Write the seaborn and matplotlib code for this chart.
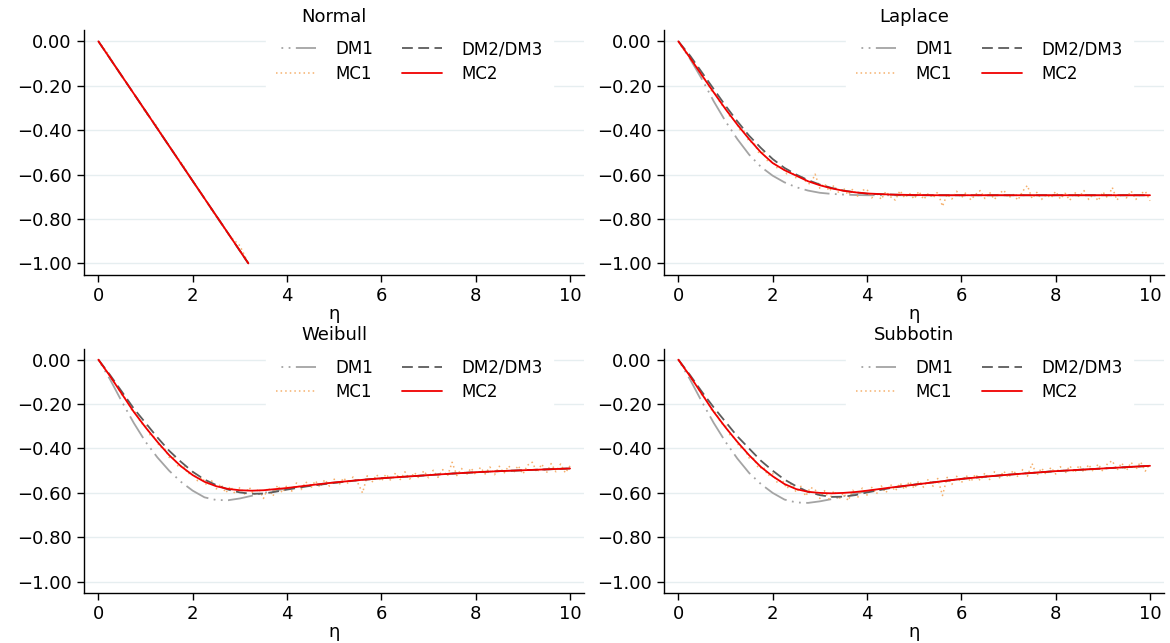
import numpy as np
import pandas as pd
import seaborn as sns
import matplotlib.pyplot as plt

# eta grid used for the smooth curves (DM1, DM2/DM3, MC2)
eta = [0, 0.25, 0.5, 0.75, 1, 1.25, 1.5, 1.75, 2, 2.25, 2.5, 2.75, 3, 3.25, 3.5, 3.75,
       4, 4.5, 5, 5.5, 6, 6.5, 7, 7.5, 8, 8.5, 9, 9.5, 10]
# eta grid of the simulated (noisy) MC1 series, steps of 0.1
eta_mc1 = np.round(np.arange(0, 10.05, 0.1), 1)

# Normal: all methods coincide, plotted until the curve hits -1
eta_normal = [0, 1, 2, 3, 3.18]
normal_curve = [0, -0.314, -0.629, -0.943, -1.0]
eta_normal_mc1 = [0, 0.2, 0.4, 0.6, 0.8, 1.0, 1.2, 1.4, 1.6, 1.8, 2.0, 2.2, 2.4, 2.6, 2.8, 3.0, 3.18]
normal_mc1 = [0, -0.055, -0.13, -0.19, -0.25, -0.32, -0.37, -0.44, -0.5, -0.56, -0.63,
              -0.69, -0.76, -0.82, -0.88, -0.92, -1.0]

# Laplace
laplace_dm1 = [0, -0.08, -0.17, -0.27, -0.36, -0.44, -0.51, -0.565, -0.605, -0.635, -0.657,
               -0.672, -0.682, -0.687, -0.69, -0.692, -0.693, -0.693, -0.693, -0.693, -0.693,
               -0.693, -0.693, -0.693, -0.693, -0.693, -0.693, -0.693, -0.693]
laplace_dm2 = [0, -0.065, -0.14, -0.215, -0.29, -0.36, -0.425, -0.48, -0.53, -0.57, -0.60,
               -0.625, -0.645, -0.66, -0.672, -0.68, -0.686, -0.69, -0.693, -0.693, -0.693,
               -0.693, -0.693, -0.693, -0.693, -0.693, -0.693, -0.693, -0.693]
laplace_mc2 = [0, -0.075, -0.153, -0.23, -0.305, -0.375, -0.44, -0.50, -0.548, -0.58, -0.605,
               -0.63, -0.648, -0.662, -0.673, -0.68, -0.685, -0.69, -0.692, -0.693, -0.693,
               -0.693, -0.693, -0.693, -0.693, -0.693, -0.693, -0.693, -0.693]
laplace_mc1 = [0, -0.035, -0.055, -0.097, -0.115, -0.16, -0.178, -0.223, -0.238, -0.283, -0.297,
               -0.343, -0.352, -0.398, -0.405, -0.452, -0.455, -0.5, -0.5, -0.542, -0.54,
               -0.572, -0.565, -0.597, -0.585, -0.617, -0.603, -0.63, -0.645, -0.598, -0.662,
               -0.64, -0.675, -0.648, -0.682, -0.66, -0.692, -0.665, -0.697, -0.67, -0.667,
               -0.705, -0.68, -0.712, -0.676, -0.70, -0.715, -0.672, -0.705, -0.684, -0.71,
               -0.675, -0.712, -0.685, -0.705, -0.678, -0.743, -0.688, -0.71, -0.675, -0.705,
               -0.68, -0.714, -0.69, -0.672, -0.708, -0.68, -0.712, -0.686, -0.67, -0.705,
               -0.69, -0.715, -0.675, -0.649, -0.708, -0.68, -0.712, -0.69, -0.705, -0.676,
               -0.71, -0.684, -0.716, -0.68, -0.70, -0.672, -0.712, -0.688, -0.718, -0.678,
               -0.705, -0.658, -0.715, -0.685, -0.705, -0.674, -0.712, -0.686, -0.675, -0.718]

# Weibull
weibull_dm1 = [0, -0.09, -0.19, -0.285, -0.37, -0.44, -0.50, -0.55, -0.59, -0.62, -0.632,
               -0.633, -0.625, -0.613, -0.60, -0.59, -0.58, -0.565, -0.553, -0.543, -0.534,
               -0.527, -0.52, -0.513, -0.507, -0.502, -0.498, -0.494, -0.49]
weibull_dm2 = [0, -0.07, -0.145, -0.22, -0.285, -0.35, -0.41, -0.46, -0.505, -0.54, -0.565,
               -0.585, -0.598, -0.604, -0.603, -0.595, -0.585, -0.568, -0.555, -0.543, -0.534,
               -0.527, -0.52, -0.513, -0.507, -0.502, -0.498, -0.494, -0.49]
weibull_mc2 = [0, -0.075, -0.155, -0.235, -0.305, -0.37, -0.43, -0.48, -0.52, -0.55, -0.57,
               -0.582, -0.588, -0.59, -0.588, -0.583, -0.578, -0.565, -0.553, -0.543, -0.534,
               -0.527, -0.52, -0.513, -0.507, -0.502, -0.498, -0.494, -0.49]
weibull_mc1 = [0, -0.032, -0.058, -0.093, -0.12, -0.16, -0.18, -0.225, -0.24, -0.285, -0.297,
               -0.34, -0.35, -0.393, -0.398, -0.44, -0.44, -0.485, -0.475, -0.515, -0.505,
               -0.545, -0.53, -0.567, -0.545, -0.582, -0.56, -0.60, -0.57, -0.605, -0.575,
               -0.605, -0.575, -0.61, -0.58, -0.625, -0.575, -0.615, -0.565, -0.60, -0.565,
               -0.592, -0.555, -0.585, -0.55, -0.58, -0.545, -0.575, -0.54, -0.57, -0.538,
               -0.565, -0.532, -0.56, -0.528, -0.555, -0.60, -0.523, -0.552, -0.518, -0.548,
               -0.515, -0.545, -0.51, -0.54, -0.505, -0.538, -0.508, -0.535, -0.50, -0.532,
               -0.498, -0.53, -0.495, -0.525, -0.462, -0.522, -0.49, -0.52, -0.488, -0.518,
               -0.485, -0.515, -0.483, -0.518, -0.48, -0.512, -0.478, -0.51, -0.477, -0.515,
               -0.475, -0.462, -0.508, -0.47, -0.51, -0.468, -0.505, -0.47, -0.51, -0.478]

# Subbotin
subbotin_dm1 = [0, -0.09, -0.19, -0.285, -0.37, -0.445, -0.51, -0.56, -0.60, -0.63, -0.643,
                -0.645, -0.638, -0.628, -0.615, -0.603, -0.592, -0.576, -0.563, -0.55, -0.537,
                -0.527, -0.518, -0.51, -0.502, -0.496, -0.49, -0.484, -0.478]
subbotin_dm2 = [0, -0.07, -0.145, -0.215, -0.28, -0.345, -0.40, -0.455, -0.50, -0.54, -0.57,
                -0.595, -0.61, -0.618, -0.617, -0.61, -0.598, -0.578, -0.563, -0.55, -0.537,
                -0.527, -0.518, -0.51, -0.502, -0.496, -0.49, -0.484, -0.478]
subbotin_mc2 = [0, -0.075, -0.155, -0.235, -0.305, -0.37, -0.43, -0.483, -0.525, -0.56, -0.583,
                -0.595, -0.60, -0.602, -0.60, -0.596, -0.59, -0.576, -0.563, -0.55, -0.537,
                -0.527, -0.518, -0.51, -0.502, -0.496, -0.49, -0.484, -0.478]
subbotin_mc1 = [0, -0.032, -0.058, -0.093, -0.12, -0.16, -0.18, -0.225, -0.24, -0.285, -0.297,
                -0.342, -0.352, -0.395, -0.402, -0.443, -0.445, -0.49, -0.482, -0.522, -0.512,
                -0.555, -0.54, -0.58, -0.558, -0.598, -0.57, -0.615, -0.575, -0.585, -0.625,
                -0.59, -0.63, -0.59, -0.63, -0.60, -0.635, -0.588, -0.622, -0.578, -0.61,
                -0.575, -0.605, -0.568, -0.60, -0.562, -0.592, -0.555, -0.585, -0.548, -0.58,
                -0.545, -0.575, -0.538, -0.57, -0.535, -0.612, -0.53, -0.562, -0.525, -0.555,
                -0.52, -0.55, -0.515, -0.545, -0.51, -0.54, -0.505, -0.535, -0.502, -0.532,
                -0.498, -0.528, -0.495, -0.525, -0.468, -0.522, -0.488, -0.518, -0.485, -0.515,
                -0.482, -0.512, -0.478, -0.51, -0.475, -0.508, -0.472, -0.505, -0.47, -0.503,
                -0.468, -0.455, -0.498, -0.465, -0.50, -0.462, -0.495, -0.46, -0.502, -0.468]

series_order = ['DM1', 'MC1', 'DM2/DM3', 'MC2']
palette = {'DM1': '#a4a4a4', 'DM2/DM3': '#5c5c5c', 'MC1': '#f4a75c', 'MC2': '#f00000'}
dashes = {'DM1': (14, 3, 1, 3, 1, 3), 'DM2/DM3': (6, 3), 'MC1': (1, 2), 'MC2': ''}

panels = [
    ('Normal', (eta_normal, normal_curve), (eta_normal, normal_curve),
     (eta_normal_mc1, normal_mc1), (eta_normal, normal_curve)),
    ('Laplace', (eta, laplace_dm1), (eta, laplace_dm2), (eta_mc1, laplace_mc1), (eta, laplace_mc2)),
    ('Weibull', (eta, weibull_dm1), (eta, weibull_dm2), (eta_mc1, weibull_mc1), (eta, weibull_mc2)),
    ('Subbotin', (eta, subbotin_dm1), (eta, subbotin_dm2), (eta_mc1, subbotin_mc1), (eta, subbotin_mc2)),
]

sns.set_style('ticks')
plt.rcParams['font.family'] = ['DejaVu Sans']
for k in ['text.color', 'axes.labelcolor', 'xtick.color', 'ytick.color']:
    plt.rcParams[k] = 'black'

fig, axes = plt.subplots(2, 2, figsize=(11.7, 6.43), dpi=100)
fig.subplots_adjust(left=0.072, right=0.995, top=0.953, bottom=0.078, wspace=0.16, hspace=0.303)

for ax, (title, dm1, dm2, mc1, mc2) in zip(axes.flat, panels):
    parts = []
    for name, (x, y) in zip(series_order, [dm1, mc1, dm2, mc2]):
        parts.append(pd.DataFrame({'eta': x, 'value': y, 'series': name}))
    df = pd.concat(parts, ignore_index=True)

    sns.lineplot(data=df, x='eta', y='value', hue='series', style='series',
                 hue_order=series_order, style_order=series_order,
                 palette=palette, dashes=dashes, estimator=None, linewidth=1.3,
                 legend=False, ax=ax)

    lines = ax.get_lines()[:4]
    # start the DM1 pattern with the dots, like the original
    lines[0].set_linestyle((14, (14, 3, 1, 3, 1, 3)))
    lines[1].set_linewidth(1.1)
    lines[1].set_alpha(0.9)

    # horizontal grid lines only
    for yt in [0, -0.2, -0.4, -0.6, -0.8, -1.0]:
        ax.axhline(yt, color='#e6eef0', lw=1, zorder=0)

    ax.set_xlim(-0.3, 10.3)
    ax.set_ylim(-1.05, 0.05)
    ax.set_xticks([0, 2, 4, 6, 8, 10])
    ax.set_yticks([0, -0.2, -0.4, -0.6, -0.8, -1.0])
    ax.set_yticklabels(['0.00', '\u22120.20', '\u22120.40', '\u22120.60', '\u22120.80', '\u22121.00'])
    ax.tick_params(labelsize=13, length=5, width=1, color='black', pad=4)
    ax.set_title(title, fontsize=13, pad=6)
    ax.set_xlabel('\u03b7', fontsize=13, labelpad=0)
    ax.set_ylabel('')
    sns.despine(ax=ax)
    for sp in ['left', 'bottom']:
        ax.spines[sp].set_color('black')
        ax.spines[sp].set_linewidth(1)

    leg = ax.legend(lines, series_order, ncol=2, loc='upper left',
                    bbox_to_anchor=(0.364, 1.0), frameon=True, fontsize=12,
                    handlelength=2.4, handletextpad=1.15, columnspacing=1.75,
                    labelspacing=0.38, borderpad=0.6, borderaxespad=0, fancybox=False)
    leg.get_frame().set_facecolor('white')
    leg.get_frame().set_edgecolor('white')
    leg.get_frame().set_alpha(1)

fig.savefig('out.png', dpi=100)
